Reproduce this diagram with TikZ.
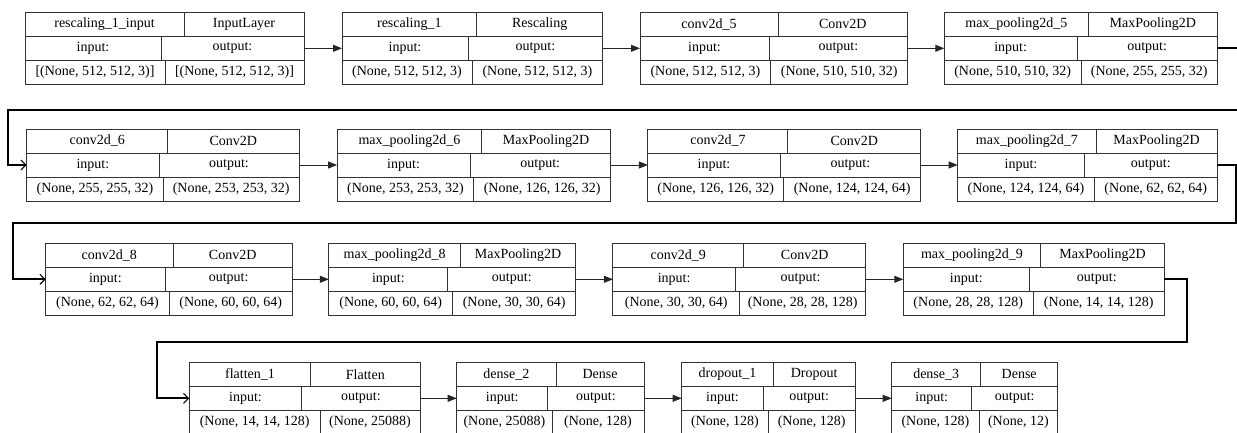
\documentclass[tikz,border=0pt]{standalone}
\usepackage{fontspec}
\setmainfont{Liberation Serif}
\usetikzlibrary{arrows.meta}
\tikzset{
  cellbox/.style={draw=black!80, line width=0.9pt, minimum height=24pt, inner sep=0pt, outer sep=0pt,
    font=\fontsize{14}{16}\selectfont, text=black},
  arr/.style={draw=black!85, line width=0.9pt, -{Triangle[length=9pt,width=7pt]}},
  wrap/.style={draw=black, line width=1.8pt, -{Straight Barb[length=5pt,width=10pt,line width=1.1pt]}}
}
\newcommand\cell[5]{%
  \pgfmathsetmacro\cw{#3-(#2)}%
  \pgfmathsetmacro\cx{((#2)+(#3))/2}%
  \pgfmathsetmacro\cy{#4+12}%
  \node[cellbox, minimum width=\cw pt] (#1) at (\cx,\cy) {#5};}
\newcommand\lay[9]{%
  \cell{#1t}{#2}{#4}{#7}{#8}%
  \cell{#1c}{#4}{#3}{#7}{#9}%
  \cell{#1i}{#2}{#5}{#7+24}{input:}%
  \cell{#1o}{#5}{#3}{#7+24}{output:}%
  \gdef\curx{#2}\gdef\cury{#7}\gdef\curxx{#3}\gdef\curbs{#6}}
\newcommand\vals[3]{%
  \cell{#1v}{\curx}{\curbs}{\cury+48}{#2}%
  \cell{#1w}{\curbs}{\curxx}{\cury+48}{#3}}
\begin{document}
\begin{tikzpicture}[x=1pt,y=-1pt]
\useasboundingbox (0,0) rectangle (1237,433);
% row 1
\lay{L1}{25}{304}{184}{161}{165}{12.3}{rescaling\_1\_input}{InputLayer}
\vals{L1}{[(None, 512, 512, 3)]}{[(None, 512, 512, 3)]}
\lay{L2}{342}{602.7}{476.7}{468}{472}{12.3}{rescaling\_1}{Rescaling}
\vals{L2}{(None, 512, 512, 3)}{(None, 512, 512, 3)}
\lay{L3}{640}{907.7}{778}{769}{770.7}{12.3}{conv2d\_5}{Conv2D}
\vals{L3}{(None, 512, 512, 3)}{(None, 510, 510, 32)}
\lay{L4}{944.3}{1217.3}{1088.3}{1077}{1081}{12.3}{max\_pooling2d\_5}{MaxPooling2D}
\vals{L4}{(None, 510, 510, 32)}{(None, 255, 255, 32)}
% row 2
\lay{L5}{26.7}{299}{167.7}{159}{163.3}{129}{conv2d\_6}{Conv2D}
\vals{L5}{(None, 255, 255, 32)}{(None, 253, 253, 32)}
\lay{L6}{337.1}{610.4}{481.8}{470}{473.9}{129}{max\_pooling2d\_6}{MaxPooling2D}
\vals{L6}{(None, 253, 253, 32)}{(None, 126, 126, 32)}
\lay{L7}{647.9}{920.7}{787.9}{780}{783.6}{129}{conv2d\_7}{Conv2D}
\vals{L7}{(None, 126, 126, 32)}{(None, 124, 124, 64)}
\lay{L8}{957.7}{1217.3}{1096}{1084.3}{1094.3}{129}{max\_pooling2d\_7}{MaxPooling2D}
\vals{L8}{(None, 124, 124, 64)}{(None, 62, 62, 64)}
% row 3
\lay{L9}{45.7}{292.3}{173}{165}{169.3}{243.3}{conv2d\_8}{Conv2D}
\vals{L9}{(None, 62, 62, 64)}{(None, 60, 60, 64)}
\lay{L10}{328.9}{575.7}{460.4}{447.9}{452.5}{243.3}{max\_pooling2d\_8}{MaxPooling2D}
\vals{L10}{(None, 60, 60, 64)}{(None, 30, 30, 64)}
\lay{L11}{612.9}{865.7}{743.6}{735.4}{739.6}{243.3}{conv2d\_9}{Conv2D}
\vals{L11}{(None, 30, 30, 64)}{(None, 28, 28, 128)}
\lay{L12}{903.3}{1164.3}{1040.7}{1029.3}{1033.3}{243.3}{max\_pooling2d\_9}{MaxPooling2D}
\vals{L12}{(None, 28, 28, 128)}{(None, 14, 14, 128)}
% row 4
\lay{L13}{189.3}{420}{310.7}{301.7}{320}{362.3}{flatten\_1}{Flatten}
\vals{L13}{(None, 14, 14, 128)}{(None, 25088)}
\lay{L14}{456.7}{644}{556}{547.7}{552}{362.3}{dense\_2}{Dense}
\vals{L14}{(None, 25088)}{(None, 128)}
\lay{L15}{681.7}{855}{773.3}{763.3}{768.3}{362.3}{dropout\_1}{Dropout}
\vals{L15}{(None, 128)}{(None, 128)}
\lay{L16}{891.7}{1057.7}{980.7}{971.7}{979}{362.3}{dense\_3}{Dense}
\vals{L16}{(None, 128)}{(None, 12)}
% straight connectors
\draw[arr] (L1o.east) -- (L2i.west);
\draw[arr] (L2o.east) -- (L3i.west);
\draw[arr] (L3o.east) -- (L4i.west);
\draw[arr] (L5o.east) -- (L6i.west);
\draw[arr] (L6o.east) -- (L7i.west);
\draw[arr] (L7o.east) -- (L8i.west);
\draw[arr] (L9o.east) -- (L10i.west);
\draw[arr] (L10o.east) -- (L11i.west);
\draw[arr] (L11o.east) -- (L12i.west);
\draw[arr] (L13o.east) -- (L14i.west);
\draw[arr] (L14o.east) -- (L15i.west);
\draw[arr] (L15o.east) -- (L16i.west);
% wrap connectors
\draw[wrap] (L4o.east) -- ++(28,0) |- (8.3,110) |- (L5i.west);
\draw[wrap] (L8o.east) -- ++(18.7,0) |- (12.7,222.7) |- (L9i.west);
\draw[wrap] (L12o.east) -- ++(22.4,0) |- (157.3,341.7) |- (L13i.west);
\end{tikzpicture}
\end{document}
